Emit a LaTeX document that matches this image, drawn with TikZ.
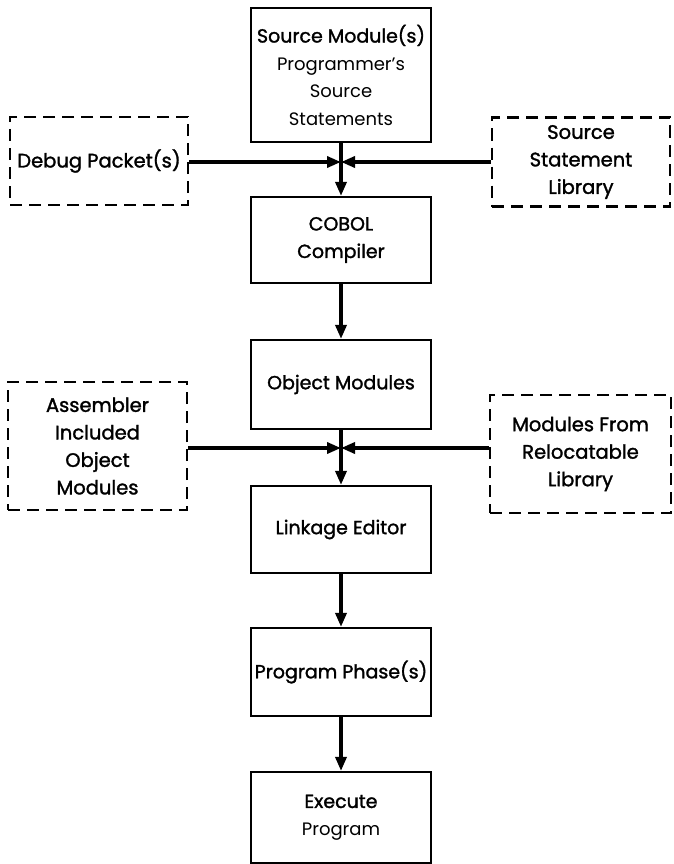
\documentclass[tikz,border=0pt]{standalone}
\usepackage{fontspec}
\setmainfont{Poppins}
\newfontfamily\hdrfont[FakeBold=1.5]{Poppins}
\usetikzlibrary{arrows.meta}
\tikzset{
  mainbox/.style={draw=black, line width=2.2pt, minimum width=180pt, align=center, inner sep=0pt,
    font=\hdrfont\fontsize{19}{27.5}\selectfont},
  sidebox/.style={draw=black, line width=2.2pt, dash pattern=on 12pt off 7pt, align=center, inner sep=0pt,
    font=\hdrfont\fontsize{19.5}{27.5}\selectfont},
  conn/.style={line width=3.4pt, -{Triangle[length=14pt,width=11pt]}}
}
\newcommand{\lt}[1]{{\normalfont\fontsize{18}{27.5}\selectfont #1}}
\begin{document}
\begin{tikzpicture}[x=1pt,y=-1pt]
\useasboundingbox (0,0) rectangle (674,864);
% main column
\node[mainbox, minimum height=134pt] (src) at (341,75) {Source Module(s)\\ \lt{Programmer's}\\ \lt{Source}\\ \lt{Statements}};
\node[mainbox, minimum height=86pt] (cob) at (341,240) {COBOL\\Compiler};
\node[mainbox, minimum height=89pt] (obj) at (341,384.5) {Object Modules};
\node[mainbox, minimum height=87pt] (lnk) at (341,529.5) {Linkage Editor};
\node[mainbox, minimum height=88pt] (pph) at (341,672) {Program Phase(s)};
\node[mainbox, minimum height=91pt] (exe) at (341,817.5) {Execute\\ \lt{Program}};
% side boxes
\node[sidebox, minimum width=178pt, minimum height=88pt] (dbg) at (99,161) {Debug Packet(s)};
\node[sidebox, minimum width=178pt, minimum height=89pt] (ssl) at (581,162) {Source\\Statement\\Library};
\node[sidebox, minimum width=179pt, minimum height=128pt] (asm) at (97.5,446) {Assembler\\Included\\Object\\Modules};
\node[sidebox, minimum width=181pt, minimum height=118pt] (mfr) at (580.5,454) {Modules From\\Relocatable\\Library};
% junctions
\coordinate (j1) at (341,162);
\coordinate (j2) at (341,448);
% connectors
\draw[conn] (src.south) -- (cob.north);
\draw[conn] (dbg.east |- j1) -- (j1);
\draw[conn] (ssl.west |- j1) -- (j1);
\draw[conn] (cob.south) -- (obj.north);
\draw[conn] (obj.south) -- (lnk.north);
\draw[conn] (asm.east |- j2) -- (j2);
\draw[conn] (mfr.west |- j2) -- (j2);
\draw[conn] (lnk.south) -- (pph.north);
\draw[conn] (pph.south) -- (exe.north);
\end{tikzpicture}
\end{document}
